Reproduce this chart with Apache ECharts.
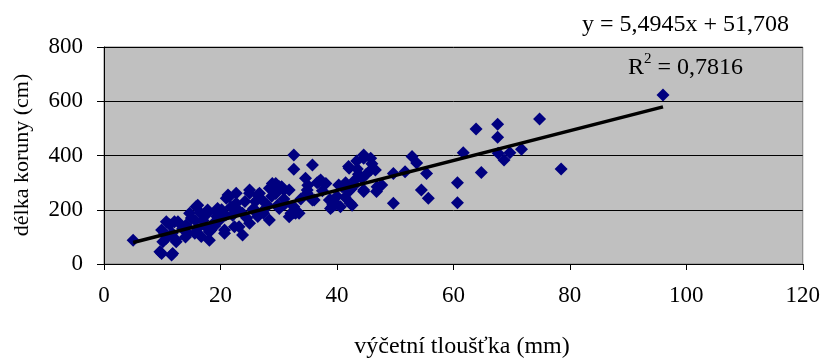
<!DOCTYPE html>
<html>
<head>
<meta charset="utf-8">
<script src="https://cdn.jsdelivr.net/npm/echarts@6/dist/echarts.min.js"></script>
<style>html,body{margin:0;padding:0;background:#fff}#c{width:823px;height:360px}</style>
</head>
<body>
<div id="c"></div>
<script>
// measured points: x = výčetní tloušťka (mm), y = délka koruny (cm)
const xs = [5,9.9,11.8,11.6,9.6,10.1,12.4,10.7,10.4,11.7,9.9,10.7,12.1,11.3,12.7,12.3,14.1,14.7,15.8,16.1,
  15.6,14.4,15.7,16.7,17.2,17.8,17.8,18.1,18.1,18.4,19.3,19.5,19.4,20.7,20.7,20.9,21.0,21.3,21.5,22.1,
  22.4,22.7,22.7,23.2,23.8,23.8,25.0,25.0,25.0,25.6,25.7,26.4,26.4,26.7,27.4,27.5,28.0,28.4,28.4,28.9,
  29.5,29.8,30.1,30.1,30.5,30.9,30.9,31.8,31.8,32.1,32.6,32.6,32.6,32.6,32.9,33.5,34.6,34.9,34.9,35.8,
  35.8,36.1,36.6,36.9,37.2,38.1,38.7,38.9,38.9,39.2,39.3,39.7,39.8,40.3,40.6,40.9,41.4,42.0,42.0,42.1,
  42.3,42.4,42.6,43.1,43.4,43.7,44.3,44.6,44.6,44.6,44.6,45.8,45.8,46.6,46.8,46.9,47.7,49.7,49.7,51.7,
  52.9,53.7,54.5,55.4,55.7,60.7,60.7,61.7,63.9,64.8,67.6,67.6,67.7,68.7,69.7,71.7,74.8,78.5,96,
  13.5,15.0,16.5,17.0,18.8,19.8,20.2,21.8,23.0,24.2,24.5,26.0,27.0,28.8,29.5,31.0,33.8,35.0,37.5,40.0,
  41.5,43.0,45.0,43.5,46.0,14.0,16.0,19.0];
const ys = [88,39,39,33,45,82,82,95,113,113,125,156,156,145,156,90,144,187,211,217,
  113,113,160,101,144,199,187,119,88,125,193,205,175,125,113,181,242,254,248,180,
  137,224,261,137,107,187,273,150,261,200,205,254,175,261,187,200,218,162,279,297,
  297,217,285,205,285,240,273,273,174,187,211,189,402,349,187,187,316,273,261,365,
  236,236,300,303,310,297,236,205,236,211,218,218,224,291,211,285,246,359,267,353,
  224,276,217,310,380,331,316,402,390,273,267,390,347,347,267,285,291,334,224,340,
  396,372,273,334,242,300,226,410,498,337,515,467,408,383,410,423,535,350,623,
  130,170,190,160,150,160,200,210,200,230,170,230,240,250,260,220,240,290,270,250,
  300,290,330,350,370,100,130,140];
// trendline (from the chart's equation) and its x range
const slope = 5.4945, intercept = 51.708;
const trendX = [5, 96];
const xTicks = {min: 0, max: 120, interval: 20};
const yTicks = {min: 0, max: 800, interval: 200};

const pts = xs.map((x, i) => [x, ys[i]]);
const trend = trendX.map(x => [x, slope * x + intercept]);
const F = '"Liberation Serif", "Times New Roman", serif';

const chart = echarts.init(document.getElementById('c'), null, {renderer: 'canvas'});
chart.setOption({
  animation: false,
  backgroundColor: '#fff',
  grid: {left: 104, right: 17, top: 47, bottom: 96, show: true, backgroundColor: '#c0c0c0', borderColor: '#808080', borderWidth: 1},
  xAxis: {
    type: 'value', min: xTicks.min, max: xTicks.max, interval: xTicks.interval,
    axisLine: {show: true, onZero: false, lineStyle: {color: '#000', width: 1}},
    axisTick: {show: true, inside: false, length: 6, lineStyle: {color: '#000'}},
    splitLine: {show: false},
    axisLabel: {color: '#000', fontFamily: F, fontSize: 23, margin: 20}
  },
  yAxis: {
    type: 'value', min: yTicks.min, max: yTicks.max, interval: yTicks.interval,
    axisLine: {show: true, onZero: false, lineStyle: {color: '#000', width: 1}},
    axisTick: {show: true, inside: false, length: 7, lineStyle: {color: '#000'}},
    splitLine: {show: true, lineStyle: {color: '#000', width: 1}},
    axisLabel: {color: '#000', fontFamily: F, fontSize: 23, margin: 21}
  },
  series: [
    {type: 'scatter', data: pts, symbol: 'diamond', symbolSize: 13, itemStyle: {color: '#000080', opacity: 1}, z: 2},
    {type: 'line', data: trend, symbol: 'none', lineStyle: {color: '#000', width: 3.5}, z: 3}
  ],
  graphic: [
    {type: 'text', left: 582, top: 13, style: {text: 'y = 5,4945x + 51,708', font: '24px ' + F, fill: '#000'}},
    {type: 'text', left: 628, top: 52, style: {
      text: '{r|R}{s|2}{r| = 0,7816}', fill: '#000',
      rich: {r: {fontFamily: F, fontSize: 24, verticalAlign: 'bottom'}, s: {fontFamily: F, fontSize: 15, verticalAlign: 'top', padding: [0,0,13,0]}}
    }},
    {type: 'text', x: 22, y: 155, rotation: Math.PI / 2, style: {text: 'délka koruny (cm)', font: '22px ' + F, fill: '#000', align: 'center', verticalAlign: 'middle'}},
    {type: 'text', x: 462, y: 347, style: {text: 'výčetní tloušťka (mm)', font: '24px ' + F, fill: '#000', align: 'center', verticalAlign: 'middle'}}
  ]
});
</script>
</body>
</html>
